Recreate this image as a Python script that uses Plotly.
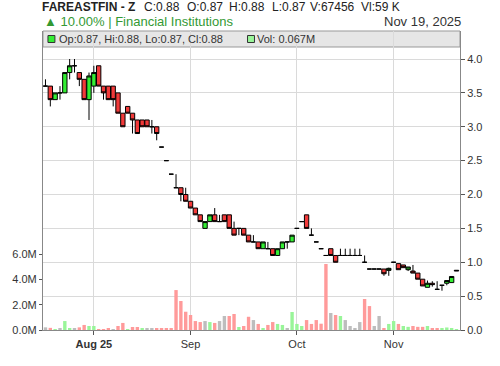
import plotly.graph_objects as go

# ---------------- data ----------------
opens = [3.60, 3.60, 3.40, 3.50, 3.50, 3.80, 3.90, 3.80, 3.70, 3.40,
         3.60, 3.90, 3.60, 3.60, 3.60, 3.50, 3.20, 3.30, 3.20, 3.10,
         3.10, 3.10, 3.00, 3.00, 2.70, 2.50, 2.30, 2.10, 2.10, 2.00,
         1.90, 1.80, 1.70, 1.50, 1.60, 1.70, 1.60, 1.70, 1.70, 1.50,
         1.50, 1.50, 1.40, 1.30, 1.30, 1.20, 1.20, 1.20, 1.10, 1.20,
         1.30, 1.30, 1.50, 1.60, 1.70, 1.40, 1.30, 1.20, 1.10, 1.20,
         1.10, 1.10, 1.10, 1.10, 1.10, 1.10, 1.00, 0.90, 0.90, 0.90,
         0.90, 0.88, 1.00, 0.98, 0.96, 0.89, 0.87, 0.84, 0.75, 0.63,
         0.69, 0.60, 0.66, 0.69, 0.70, 0.87]
highs = [3.70, 3.60, 3.50, 3.60, 3.80, 4.00, 4.00, 3.80, 3.70, 3.80,
         3.90, 3.90, 3.60, 3.60, 3.60, 3.50, 3.20, 3.30, 3.20, 3.10,
         3.10, 3.10, 3.10, 3.00, 2.70, 2.50, 2.30, 2.30, 2.10, 2.10,
         1.90, 1.80, 1.70, 1.60, 1.70, 1.80, 1.70, 1.70, 1.70, 1.60,
         1.50, 1.50, 1.40, 1.40, 1.30, 1.30, 1.30, 1.20, 1.20, 1.30,
         1.30, 1.40, 1.50, 1.60, 1.70, 1.50, 1.30, 1.20, 1.10, 1.20,
         1.10, 1.20, 1.20, 1.20, 1.20, 1.20, 1.10, 0.90, 0.90, 0.90,
         0.90, 0.92, 1.00, 0.98, 0.96, 0.93, 0.96, 0.84, 0.75, 0.73,
         0.72, 0.72, 0.66, 0.73, 0.79, 0.88]
lows = [3.60, 3.30, 3.40, 3.40, 3.50, 3.70, 3.80, 3.60, 3.40, 3.10,
        3.50, 3.60, 3.40, 3.40, 3.30, 3.20, 3.00, 3.20, 2.90, 2.90,
        3.00, 3.00, 2.90, 2.80, 2.70, 2.50, 2.30, 2.10, 1.90, 1.90,
        1.80, 1.70, 1.60, 1.50, 1.60, 1.60, 1.60, 1.60, 1.50, 1.40,
        1.40, 1.40, 1.30, 1.30, 1.20, 1.20, 1.20, 1.10, 1.10, 1.20,
        1.20, 1.30, 1.50, 1.60, 1.50, 1.40, 1.30, 1.20, 1.10, 1.10,
        1.00, 1.10, 1.10, 1.10, 1.10, 1.10, 1.00, 0.90, 0.90, 0.90,
        0.80, 0.80, 1.00, 0.89, 0.92, 0.87, 0.84, 0.75, 0.65, 0.63,
        0.64, 0.60, 0.58, 0.66, 0.70, 0.87]
closes = [3.60, 3.40, 3.50, 3.50, 3.80, 3.90, 3.90, 3.70, 3.40, 3.75,
          3.80, 3.60, 3.50, 3.40, 3.40, 3.20, 3.00, 3.20, 3.10, 2.90,
          3.00, 3.00, 3.00, 2.90, 2.70, 2.50, 2.30, 2.10, 2.00, 1.90,
          1.80, 1.70, 1.60, 1.60, 1.70, 1.60, 1.60, 1.60, 1.50, 1.40,
          1.50, 1.40, 1.30, 1.30, 1.20, 1.30, 1.20, 1.10, 1.20, 1.30,
          1.30, 1.40, 1.50, 1.60, 1.50, 1.40, 1.30, 1.20, 1.10, 1.10,
          1.00, 1.10, 1.10, 1.10, 1.10, 1.10, 1.00, 0.90, 0.90, 0.90,
          0.83, 0.91, 1.00, 0.89, 0.92, 0.93, 0.84, 0.75, 0.65, 0.69,
          0.67, 0.60, 0.66, 0.73, 0.79, 0.88]
volumes_m = [0.21, 0.17, 0.03, 0.08, 0.71, 0.16, 0.16, 0.21, 0.40, 0.32,
             0.32, 0.02, 0.02, 0.08, 0.02, 0.32, 0.56, 0.02, 0.24, 0.24,
             0.16, 0.16, 0.16, 0.14, 0.10, 0.14, 0.10, 3.17, 2.30, 1.45,
             1.19, 0.71, 0.63, 0.71, 0.63, 0.56, 0.71, 1.11, 1.11, 1.27,
             0.24, 0.32, 1.05, 0.79, 0.48, 0.08, 0.40, 0.63, 0.48, 0.40,
             0.08, 1.43, 0.48, 0.32, 0.79, 0.48, 0.79, 0.50, 5.24, 1.35,
             1.19, 1.11, 0.79, 0.32, 0.16, 0.63, 2.46, 1.90, 0.32, 1.11,
             0.16, 0.48, 0.71, 0.48, 0.32, 0.25, 0.32, 0.25, 0.25, 0.32,
             0.10, 0.10, 0.10, 0.20, 0.10, 0.067]
month_tick_index = [10, 30, 52, 72]
month_tick_text = ["<b>Aug 25</b>", "Sep", "Oct", "Nov"]
volume_ticks_m = [0, 2, 4, 6]
price_ticks = [0, 0.5, 1.0, 1.5, 2.0, 2.5, 3.0, 3.5, 4.0]

header_name = "FAREASTFIN - Z"
header_fields = ["C:0.88", "O:0.87", "H:0.88", "L:0.87", "V:67456", "Vl:59 K"]
change_text = "▲ 10.00% | Financial Institutions"
date_text = "Nov 19, 2025"
legend_ohlc = "Op:0.87, Hi:0.88, Lo:0.87, Cl:0.88"
legend_vol = "Vol: 0.067M"

# ---------------- figure ----------------
W, H = 500, 366
ML, MR, MT, MB = 40, 40, 31, 36
PW, PH = W - ML - MR, H - MT - MB


def px(xp):
    return (xp - ML) / PW


def py(yp):
    return (H - MB - yp) / PH


idx = list(range(len(closes)))

vol_colors = []
for i, c in enumerate(closes):
    if i == 0 or c == closes[i - 1]:
        vol_colors.append("#bdbdbd")
    elif c > closes[i - 1]:
        vol_colors.append("#99f599")
    else:
        vol_colors.append("#ff9a9a")

fig = go.Figure()
fig.add_trace(go.Bar(x=idx, y=volumes_m, marker=dict(color=vol_colors, line=dict(width=0)),
                     yaxis="y", hoverinfo="skip", showlegend=False))
fig.add_trace(go.Candlestick(
    x=idx, open=opens, high=highs, low=lows, close=closes, yaxis="y2",
    increasing=dict(fillcolor="#33ee33", line=dict(color="black", width=1)),
    decreasing=dict(fillcolor="#f23a3a", line=dict(color="black", width=1)),
    whiskerwidth=0, showlegend=False))

x0 = -2.5 / 4.87
fig.update_layout(
    width=W, height=H,
    margin=dict(l=ML, r=MR, t=MT, b=MB, pad=0),
    paper_bgcolor="white", plot_bgcolor="white",
    font=dict(family="Liberation Sans, Arial, sans-serif", size=11, color="#333"),
    bargap=0.3, boxgap=0.1, boxgroupgap=0,
    showlegend=False,
    xaxis=dict(range=[x0, x0 + PW / 4.87], tickmode="array", tickvals=month_tick_index,
               ticktext=month_tick_text, showgrid=True, gridcolor="#dadada", gridwidth=1,
               showline=True, linecolor="#888", linewidth=1, ticks="outside", ticklen=4,
               tickcolor="#555", zeroline=False, rangeslider=dict(visible=False),
               tickfont=dict(size=11, color="#333")),
    yaxis=dict(range=[0, PH / 12.6], side="left", tickmode="array", tickvals=volume_ticks_m,
               ticktext=["%.1fM" % v for v in volume_ticks_m], showgrid=False, zeroline=False,
               showline=True, linecolor="#888", linewidth=1, ticks="outside", ticklen=3,
               tickcolor="#555", tickfont=dict(size=11, color="#333")),
    yaxis2=dict(range=[0, PH / 67.75], side="right", overlaying="y", tickmode="array",
                tickvals=price_ticks, ticktext=["%.1f" % v for v in price_ticks],
                showgrid=True, gridcolor="#dadada",
                zeroline=False, showline=True, linecolor="#888", linewidth=1,
                ticks="outside", ticklen=4, tickcolor="#555",
                tickfont=dict(size=11, color="#333")),
)

shapes = [
    dict(type="rect", xref="paper", yref="paper", x0=0, x1=1, y0=py(47), y1=py(31),
         fillcolor="#e6e6e6", line=dict(color="#999", width=1), layer="below"),
    dict(type="rect", xref="paper", yref="paper", x0=px(45), x1=px(52), y0=py(42.5), y1=py(35.5),
         fillcolor="#33ee33", line=dict(color="#333", width=1)),
    dict(type="rect", xref="paper", yref="paper", x0=px(246), x1=px(253), y0=py(42.5), y1=py(35.5),
         fillcolor="#99f599", line=dict(color="#333", width=1)),
]
fig.update_layout(shapes=shapes)

ann = [
    dict(text="<b>" + header_name + "</b>", x=px(37), y=py(7), xanchor="left", yanchor="middle",
         font=dict(size=12, color="#222")),
    dict(text=change_text, x=px(39), y=py(21), xanchor="left", yanchor="middle",
         font=dict(size=13, color="#339933")),
    dict(text=date_text, x=px(463), y=py(21), xanchor="right", yanchor="middle",
         font=dict(size=13, color="#333")),
    dict(text=legend_ohlc, x=px(54), y=py(39), xanchor="left", yanchor="middle",
         font=dict(size=11, color="#333")),
    dict(text=legend_vol, x=px(254), y=py(39), xanchor="left", yanchor="middle",
         font=dict(size=11, color="#333")),
]
field_x = [140, 183, 225, 269, 307, 358]
for fx, t in zip(field_x, header_fields):
    ann.append(dict(text=t, x=px(fx), y=py(7), xanchor="left", yanchor="middle",
                    font=dict(size=12, color="#222")))
for a in ann:
    a.update(xref="paper", yref="paper", showarrow=False)
fig.update_layout(annotations=ann)

fig.write_html("out.html")
